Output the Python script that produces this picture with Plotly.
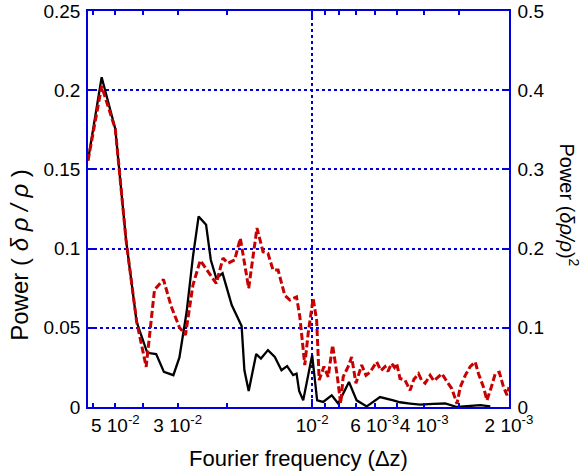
import plotly.graph_objects as go

# Fourier frequency (1/Δz) and power, black curve (left axis, δρ/ρ)
freq_black = [0.0625, 0.0559, 0.05, 0.0458, 0.0420, 0.0385, 0.0358, 0.0336, 0.0311, 0.0296,
              0.0279, 0.0265, 0.0253, 0.0238, 0.0229, 0.0219, 0.0208, 0.0193, 0.0178, 0.0174,
              0.0168, 0.0162, 0.0158, 0.0152, 0.01435, 0.01357, 0.01285, 0.01227, 0.01168, 0.01136,
              0.01112, 0.01076, 0.0100, 0.00960, 0.00914, 0.00852, 0.00808, 0.00740, 0.00695, 0.00640,
              0.00574, 0.00515, 0.004875, 0.00449, 0.00414, 0.00371, 0.00337, 0.00306, 0.002747, 0.00253,
              0.00233]
power_black = [0.1557, 0.2082, 0.1756, 0.1055, 0.0538, 0.0342, 0.0334, 0.0222, 0.0201, 0.0313,
               0.0601, 0.0949, 0.1203, 0.1150, 0.0928, 0.0813, 0.0844, 0.0644, 0.0511, 0.0232,
               0.0101, 0.0253, 0.0334, 0.0306, 0.0359, 0.0316, 0.0232, 0.0258, 0.0201, 0.0211,
               0.0101, 0.0042, 0.0327, 0.0042, 0.0032, 0.0074, 0.0022, 0.0158, 0.0042, 0.0004,
               0.0063, 0.0042, 0.0030, 0.0022, 0.0015, 0.0020, 0.0022, 0.0000, 0.0006, 0.0012,
               0.0004]

# red dashed curve (right axis, (δρ/ρ)^2)
freq_red = [0.0625, 0.0559, 0.05, 0.0458, 0.0420, 0.03885, 0.03629, 0.03372, 0.03165, 0.0296,
            0.02817, 0.0265, 0.02496, 0.02345, 0.0219, 0.02073, 0.0199, 0.01884, 0.01799, 0.0168,
            0.0157, 0.01494, 0.01435, 0.01377, 0.01321, 0.01251, 0.01200, 0.01136, 0.01106, 0.01062,
            0.01033, 0.00992, 0.00964, 0.00944, 0.00908, 0.00877, 0.00846, 0.00815, 0.00792, 0.00776,
            0.00745, 0.00724, 0.00699, 0.00667, 0.00644, 0.00623, 0.00606, 0.00590, 0.00570, 0.00551,
            0.00538, 0.00522, 0.00510, 0.00501, 0.004875, 0.00468, 0.00449, 0.00435, 0.00419, 0.00409,
            0.00397, 0.00381, 0.00370, 0.00361, 0.00346, 0.00332, 0.00319, 0.00306, 0.00298, 0.00286,
            0.002747, 0.002636, 0.002566, 0.002463, 0.002395, 0.002312, 0.002238, 0.002165, 0.002091, 0.002033,
            0.00200]
power_red = [0.311, 0.405, 0.351, 0.211, 0.108, 0.0506, 0.148, 0.161, 0.127, 0.1005,
             0.091, 0.154, 0.185, 0.171, 0.156, 0.188, 0.1815, 0.1857, 0.213, 0.150,
             0.226, 0.196, 0.194, 0.173, 0.173, 0.141, 0.135, 0.139, 0.114, 0.053,
             0.093, 0.137, 0.110, 0.034, 0.051, 0.038, 0.078, 0.040, 0.0043, 0.038,
             0.051, 0.063, 0.030, 0.053, 0.040, 0.044, 0.050, 0.057, 0.046, 0.051,
             0.045, 0.055, 0.050, 0.055, 0.036, 0.034, 0.021, 0.035, 0.042, 0.034,
             0.030, 0.040, 0.033, 0.036, 0.042, 0.032, 0.023, 0.004, 0.025, 0.040,
             0.051, 0.057, 0.042, 0.025, 0.0085, 0.025, 0.042, 0.044, 0.025, 0.015,
             0.025]

tick_vals = [0.06, 0.05, 0.04, 0.03, 0.02, 0.01, 0.009, 0.008, 0.007, 0.006, 0.005, 0.004, 0.003, 0.002]
tick_text = ["", "5 10<sup>-2</sup>", "", "3 10<sup>-2</sup>", "", "10<sup>-2</sup>", "", "", "",
             "6 10<sup>-3</sup>", "", "4 10<sup>-3</sup>", "", "2 10<sup>-3</sup>"]
y_left_vals = [0, 0.05, 0.1, 0.15, 0.2, 0.25]
y_left_text = ["0", "0.05", "0.1", "0.15", "0.2", "0.25"]
y_right_vals = [0, 0.1, 0.2, 0.3, 0.4, 0.5]
y_right_text = ["0", "0.1", "0.2", "0.3", "0.4", "0.5"]
peak_labels = ["4", "3", "2", "1"]
peak_x = [0.0559, 0.0245, 0.0156, 0.00994]
peak_y = [0.2207, 0.1353, 0.1239, 0.0859]

BLUE = "#0000dd"
FONT = "Liberation Sans, Arial, sans-serif"

fig = go.Figure()
fig.add_trace(go.Scatter(x=freq_red, y=power_red, yaxis="y2", mode="lines",
                         line=dict(color="#c80000", width=3, dash="7px,3px")))
fig.add_trace(go.Scatter(x=freq_black, y=power_black, mode="lines",
                         line=dict(color="black", width=2.3)))

for t, x, y in zip(peak_labels, peak_x, peak_y):
    fig.add_annotation(x=x, y=y, xref="x", yref="y", text=t, showarrow=False,
                       font=dict(size=20, color="black", family=FONT))

fig.add_annotation(x=-0.162, y=0.384, xref="paper", yref="paper",
                   xanchor="center", yanchor="middle",
                   text="Power ( <i>δ ρ / ρ</i> )", textangle=-90, showarrow=False,
                   font=dict(size=24, color="black", family=FONT))
fig.add_annotation(x=1.144, y=0.51, xref="paper", yref="paper",
                   xanchor="center", yanchor="middle",
                   text="Power (<i>δρ/ρ</i>)<sup>2</sup>", textangle=90, showarrow=False,
                   font=dict(size=20, color="black", family=FONT))

fig.update_layout(
    width=583, height=476,
    margin=dict(l=88, r=74, t=11, b=69),
    paper_bgcolor="white", plot_bgcolor="white",
    showlegend=False,
    font=dict(family=FONT, size=19, color="black"),
    xaxis=dict(
        type="log", range=[-1.2041, -2.699], automargin=False,
        tickmode="array", tickvals=tick_vals, ticktext=tick_text, tickangle=0,
        ticks="inside", ticklen=4, tickwidth=1.5, tickcolor=BLUE,
        showline=True, linecolor=BLUE, linewidth=1.5, mirror="ticks",
        showgrid=False, zeroline=False, ticklabeloverflow="allow",
        minor=dict(tickmode="array", tickvals=[0.01], ticks="inside", ticklen=8,
                   tickwidth=1.5, tickcolor=BLUE, showgrid=True, gridcolor=BLUE,
                   griddash="dot", gridwidth=1.5),
        title=dict(text="Fourier frequency (Δz)", font=dict(size=22), standoff=16),
        tickfont=dict(size=19),
    ),
    yaxis=dict(
        range=[0, 0.25], tickmode="array", tickvals=y_left_vals, ticktext=y_left_text,
        automargin=False, ticklabeloverflow="allow",
        ticks="inside", ticklen=6, tickwidth=1.5, tickcolor=BLUE,
        showline=True, linecolor=BLUE, linewidth=1.5, mirror=True,
        showgrid=True, gridcolor=BLUE, griddash="dot", gridwidth=1.5,
        zeroline=False, tickfont=dict(size=19), ticklabelstandoff=2,
    ),
    yaxis2=dict(
        range=[0, 0.5], tickmode="array", tickvals=y_right_vals, ticktext=y_right_text,
        automargin=False, ticklabeloverflow="allow",
        overlaying="y", side="right",
        ticks="inside", ticklen=6, tickwidth=1.5, tickcolor=BLUE,
        showline=True, linecolor=BLUE, linewidth=1.5,
        showgrid=False, zeroline=False, tickfont=dict(size=19), ticklabelstandoff=3,
    ),
)

fig.write_html("out.html", config={"displayModeBar": False},
               post_script="document.body.style.margin='0';")
